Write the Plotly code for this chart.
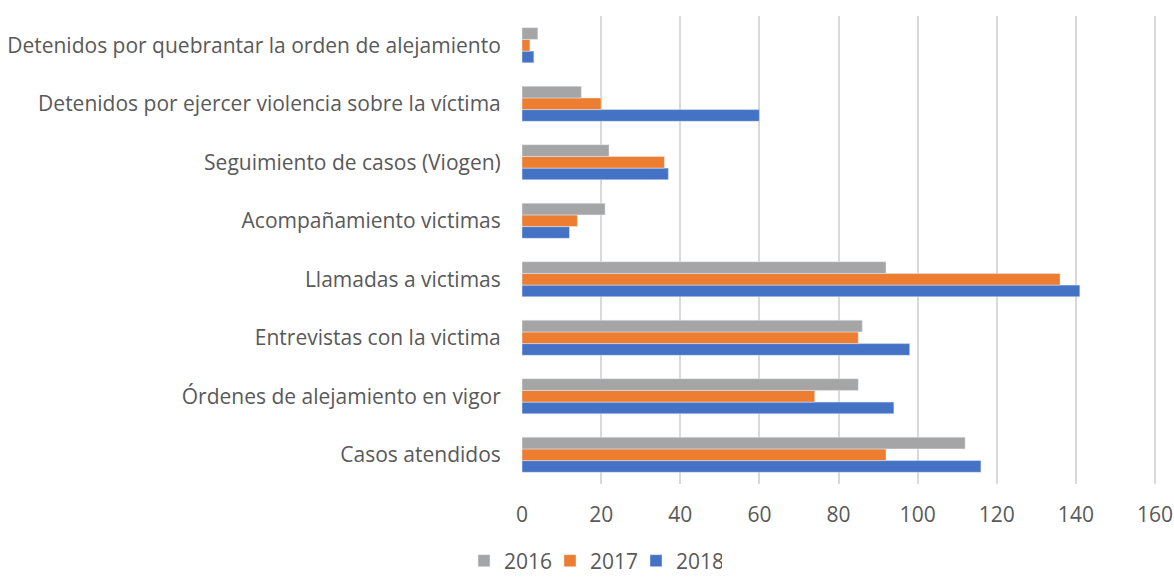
import plotly.graph_objects as go

categories = [
    "Casos atendidos",
    "Órdenes de alejamiento en vigor",
    "Entrevistas con la victima",
    "Llamadas a victimas",
    "Acompañamiento victimas",
    "Seguimiento de casos (Viogen)",
    "Detenidos por ejercer violencia sobre la víctima",
    "Detenidos por quebrantar la orden de alejamiento",
]
v2016 = [112, 85, 86, 92, 21, 22, 15, 4]
v2017 = [92, 74, 85, 136, 14, 36, 20, 2]
v2018 = [116, 94, 98, 141, 12, 37, 60, 3]
tick_vals = [0, 20, 40, 60, 80, 100, 120, 140, 160]

fig = go.Figure()
fig.add_trace(go.Bar(y=categories, x=v2018, name="2018", orientation="h",
                     marker=dict(color="#4472C4")))
fig.add_trace(go.Bar(y=categories, x=v2017, name="2017", orientation="h",
                     marker=dict(color="#ED7D31")))
fig.add_trace(go.Bar(y=categories, x=v2016, name="2016", orientation="h",
                     marker=dict(color="#A5A5A5")))

W, H = 1174, 577
fig.update_layout(
    width=W, height=H,
    margin=dict(l=522, r=17, t=16, b=93),
    paper_bgcolor="white", plot_bgcolor="white",
    barmode="group", bargap=0.4, bargroupgap=0,
    font=dict(family="Open Sans", size=21, color="#595959"),
    showlegend=True,
    legend=dict(orientation="h", traceorder="reversed",
                xref="container", x=464 / W, xanchor="left",
                yref="container", y=1 - 561 / H, yanchor="middle",
                font=dict(size=21, color="#595959"),
                entrywidth=41, entrywidthmode="pixels"),
    xaxis=dict(range=[0, 160.5], tickvals=tick_vals, showgrid=True,
               gridcolor="#D9D9D9", gridwidth=1.5, zeroline=False,
               showline=False, ticks="outside", ticklen=12,
               tickcolor="rgba(0,0,0,0)", automargin=False),
    yaxis=dict(showgrid=False, showline=False, zeroline=False,
               ticks="outside", ticklen=16, tickcolor="rgba(0,0,0,0)",
               automargin=False),
)
fig.update_xaxes(layer="below traces")
fig.write_html(
    "out.html",
    config={"displayModeBar": False},
    post_script="document.body.style.margin='0';document.body.style.overflow='hidden';",
)
